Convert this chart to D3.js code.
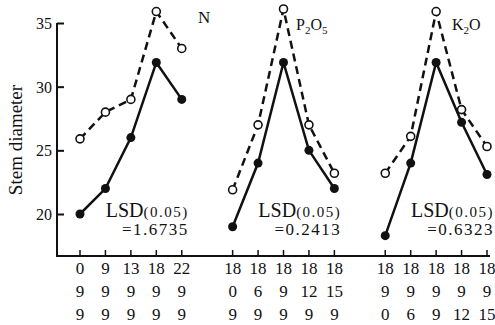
<!DOCTYPE html>
<html>
<head>
<meta charset="utf-8">
<script src="https://cdn.jsdelivr.net/npm/d3@7"></script>
<style>
body { margin:0; background:#fff; }
svg text { font-family:"Liberation Serif", "DejaVu Serif", serif; fill:#111; }
</style>
</head>
<body>
<div id="chart"></div>
<script>
// panel names, x labels (three rows) and values
var panels    = ["N", "P2O5", "K2O"];
var row1      = [["0","9","13","18","22"], ["18","18","18","18","18"], ["18","18","18","18","18"]];
var row2      = [["9","9","9","9","9"], ["0","6","9","12","15"], ["9","9","9","9","9"]];
var row3      = [["9","9","9","9","9"], ["9","9","9","9","9"], ["0","6","9","12","15"]];
var dashedVals = [[25.9, 28.0, 29.0, 35.9, 33.0], [21.9, 27.0, 36.1, 27.0, 23.2], [23.2, 26.1, 35.9, 28.2, 25.3]];
var solidVals  = [[20.0, 22.0, 26.0, 31.9, 29.0], [19.0, 24.0, 31.9, 25.0, 22.0], [18.3, 24.0, 31.9, 27.2, 23.1]];
var lsdVals   = ["=1.6735", "=0.2413", "=0.6323"];
var yTicks    = [20, 25, 30, 35];

var width  = 495;
var height = 325;

var svg = d3.select("#chart").append("svg").attr("width", width).attr("height", height);

// 5 points per panel, two empty slots between panels
var x = d3.scaleLinear().domain([0,16]).range([80,487]);
var y = d3.scaleLinear().domain([20,35]).range([214,23]);
var axisY = 256;

function slot(p, i) { return p*6 + i; }

// axes
var yAxis = d3.axisRight(y).tickValues(yTicks).tickSize(7).tickFormat(d3.format("d"));
var yG = svg.append("g").attr("transform", "translate(57,0)").call(yAxis);
yG.select(".domain").remove();
yG.selectAll(".tick line").attr("stroke","#111").attr("stroke-width",2);
yG.selectAll(".tick text").attr("x",-5).attr("text-anchor","end").attr("dy","0.35em").style("font-size","16px");
svg.append("line").attr("x1",57).attr("y1",y(35)).attr("x2",57).attr("y2",axisY+1).attr("stroke","#111").attr("stroke-width",2);
svg.append("line").attr("x1",56).attr("y1",axisY).attr("x2",490).attr("y2",axisY).attr("stroke","#111").attr("stroke-width",2);

svg.append("text").attr("transform","translate(22,140) rotate(-90)").attr("text-anchor","middle")
    .style("font-size","19px").text("Stem diameter");

var line = d3.line().x(function(d){return x(d.s);}).y(function(d){return y(d.v);});

panels.forEach(function(name, p) {

    var dashed = dashedVals[p].map(function(v,i){return {s:slot(p,i), v:v};});
    var solid  = solidVals[p].map(function(v,i){return {s:slot(p,i), v:v};});

    var g = svg.append("g");

    // x ticks and labels
    for (var i = 0; i < 5; i++) {
        var xx = x(slot(p,i));
        g.append("line").attr("x1",xx).attr("x2",xx).attr("y1",axisY).attr("y2",axisY-6).attr("stroke","#111").attr("stroke-width",1.5);
        [row1, row2, row3].forEach(function(row, r) {
            g.append("text").attr("x",xx).attr("y",274 + r*23).attr("text-anchor","middle")
                .style("font-size","17px").text(row[p][i]);
        });
    }

    g.append("path").attr("d", line(dashed)).attr("fill","none").attr("stroke","#111")
        .attr("stroke-width",2.5).attr("stroke-dasharray","8,5");
    g.append("path").attr("d", line(solid)).attr("fill","none").attr("stroke","#111").attr("stroke-width",2.5);

    g.selectAll("circle.open").data(dashed).enter().append("circle").attr("class","open")
        .attr("cx",function(d){return x(d.s);}).attr("cy",function(d){return y(d.v);})
        .attr("r",4).attr("fill","#fff").attr("stroke","#111").attr("stroke-width",1.6);
    g.selectAll("circle.full").data(solid).enter().append("circle").attr("class","full")
        .attr("cx",function(d){return x(d.s);}).attr("cy",function(d){return y(d.v);})
        .attr("r",4.5).attr("fill","#111");

    // LSD note
    var right = x(slot(p,4)) + 7;
    var lsd = g.append("text").attr("x",right).attr("y",217).attr("text-anchor","end");
    lsd.append("tspan").style("font-size","20px").text("LSD");
    lsd.append("tspan").style("font-size","15px").attr("letter-spacing","1.5px").text("(0.05)");
    g.append("text").attr("x",right).attr("y",235).attr("text-anchor","end")
        .style("font-size","17px").attr("letter-spacing","1.5px").text(lsdVals[p]);
});

// panel titles
svg.append("text").attr("x",198).attr("y",23).style("font-size","17px").text("N");
var t2 = svg.append("text").attr("x",296).attr("y",30).style("font-size","16px");
t2.append("tspan").text("P");
t2.append("tspan").attr("dy",4).style("font-size","11px").text("2");
t2.append("tspan").attr("dy",-4).text("O");
t2.append("tspan").attr("dy",4).style("font-size","11px").text("5");
var t3 = svg.append("text").attr("x",452).attr("y",30).style("font-size","16px");
t3.append("tspan").text("K");
t3.append("tspan").attr("dy",4).style("font-size","11px").text("2");
t3.append("tspan").attr("dy",-4).text("O");
</script>
</body>
</html>
